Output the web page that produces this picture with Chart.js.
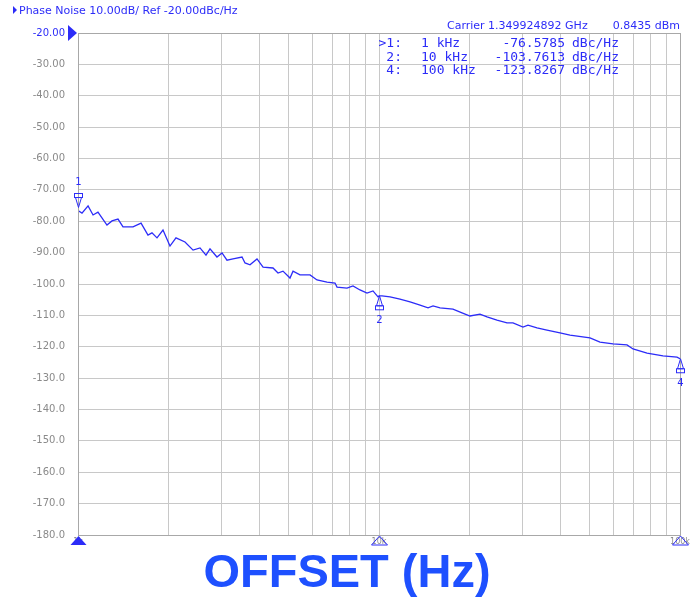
<!DOCTYPE html>
<html>
<head>
    <title>Phase Noise</title>
    <meta charset="utf-8" />
    <script src="https://cdn.jsdelivr.net/npm/chart.js"></script>
    <style>
        body { margin: 0; background: #fff; }
        #chart { display: block; }
    </style>
</head>
<body>
    <canvas id="chart" width="693" height="598"></canvas>
    <script>
        // trace (offset in Hz, noise in dBc/Hz)
        var offsetHz = [1000, 1031, 1080, 1122, 1165, 1248, 1297, 1358, 1411, 1523, 1620, 1708, 1761, 1830, 1916,
            2021, 2116, 2267, 2411, 2543, 2662, 2745, 2895, 3009, 3126, 3273, 3507, 3588, 3728, 3933, 4119, 4445,
            4618, 4798, 5062, 5180, 5465, 5899, 6223, 6720, 7142, 7253, 7829, 8196, 8647, 9123, 9552, 9924, 10000,
            10230, 10880, 11740, 12680, 13690, 14550, 15120, 15950, 17610, 18870, 20060, 21650, 22850, 24660, 26620,
            27870, 30090, 31260, 33490, 36150, 39930, 43110, 50230, 54230, 59900, 66680, 69810, 77710, 87800, 97730, 100000];
        var noiseDbc = [-76.6, -77.4, -75.1, -78.0, -77.1, -81.2, -79.9, -79.3, -81.8, -81.8, -80.6, -84.4, -83.7, -85.3, -82.8,
            -87.9, -85.3, -86.6, -89.2, -88.5, -90.8, -88.8, -91.4, -90.1, -92.4, -92.0, -91.4, -93.3, -93.9, -92.0, -94.6, -94.9,
            -96.5, -95.9, -98.1, -95.9, -97.1, -97.1, -98.7, -99.4, -99.7, -101.0, -101.3, -100.6, -101.9, -102.9, -102.2, -104.1, -103.8,
            -103.8, -104.1, -104.8, -105.7, -106.7, -107.6, -107.0, -107.6, -108.0, -109.2, -110.2, -109.6, -110.5, -111.5, -112.4,
            -112.4, -113.7, -113.1, -114.0, -114.7, -115.6, -116.3, -117.2, -118.5, -119.1, -119.4, -120.7, -122.0, -122.9, -123.3, -123.8];

        // vertical grid of the analyser and the labelled decades
        var xGridHz = [1000, 2000, 3000, 4000, 5000, 6000, 7000, 8000, 9000, 10000,
            20000, 30000, 40000, 50000, 60000, 70000, 80000, 90000, 100000];
        var xLabelHz = [1000, 10000, 100000];
        var xLabelText = ['1k', '10k', '100k'];

        // markers
        var markerNames = ['1', '2', '4'];
        var markerFreqText = ['1 kHz', '10 kHz', '100 kHz'];
        var markerFreqs = [1000, 10000, 100000];
        var markerValues = [-76.5785, -103.7613, -123.8267];

        var titleText = 'Phase Noise 10.00dB/ Ref -20.00dBc/Hz';
        var carrierText = 'Carrier 1.349924892 GHz';
        var powerText = '0.8435 dBm';
        var axisTitle = 'OFFSET (Hz)';

        var blue = '#2c2cf8';
        var smallFont = '11px "DejaVu Sans"';

        var points = offsetHz.map(function(f, i) { return { x: f, y: noiseDbc[i] }; });

        function triangle(ctx, x, tipY, dir, halfW, h, fill) {
            ctx.beginPath();
            ctx.moveTo(x, tipY);
            ctx.lineTo(x - halfW, tipY + dir * h);
            ctx.lineTo(x + halfW, tipY + dir * h);
            ctx.closePath();
            if (fill) ctx.fill(); else ctx.stroke();
        }

        var overlay = {
            id: 'overlay',
            afterDraw: function(chart) {
                var ctx = chart.ctx;
                var a = chart.chartArea;
                var xs = chart.scales.x, ys = chart.scales.y;
                ctx.save();

                // plot frame
                ctx.strokeStyle = '#a8a8a8';
                ctx.lineWidth = 1;
                ctx.strokeRect(a.left + 0.5, a.top + 0.5, a.right - a.left, a.bottom - a.top);

                ctx.fillStyle = blue;
                ctx.strokeStyle = blue;

                // title line
                ctx.beginPath();
                ctx.moveTo(13, 6); ctx.lineTo(17, 10); ctx.lineTo(13, 14); ctx.closePath(); ctx.fill();
                ctx.font = smallFont;
                ctx.textBaseline = 'alphabetic';
                ctx.textAlign = 'left';
                ctx.fillText(titleText, 19, 14);

                // carrier
                ctx.fillText(carrierText, 447, 29);
                ctx.textAlign = 'right';
                ctx.fillText(powerText, 680, 29);

                // marker table
                ctx.font = '13px "DejaVu Sans Mono"';
                for (var i = 0; i < markerNames.length; i++) {
                    var by = 47 + i * 13.5;
                    ctx.textAlign = 'right';
                    ctx.fillText((i === 0 ? '>' : '') + markerNames[i] + ':', 402, by);
                    ctx.fillText(markerValues[i].toFixed(4), 565, by);
                    ctx.textAlign = 'left';
                    ctx.fillText(markerFreqText[i], 421, by);
                    ctx.fillText('dBc/Hz', 572, by);
                }

                // reference level arrow on y axis
                var ry = ys.getPixelForValue(-20);
                ctx.beginPath();
                ctx.moveTo(a.left - 10, ry - 8); ctx.lineTo(a.left - 1, ry); ctx.lineTo(a.left - 10, ry + 8);
                ctx.closePath(); ctx.fill();

                // trace markers
                ctx.lineWidth = 1;
                ctx.font = '10px "DejaVu Sans"';
                ctx.textAlign = 'center';
                ctx.textBaseline = 'middle';
                for (var m = 0; m < markerFreqs.length; m++) {
                    var px = Math.round(xs.getPixelForValue(markerFreqs[m])) + 0.5;
                    var py = ys.getPixelForValue(markerValues[m]);
                    var dir = m === 0 ? -1 : 1;
                    var tip = m === 0 ? py - 3 : py;
                    triangle(ctx, px, tip, dir, 3, 10, false);
                    ctx.strokeRect(px - 4, dir > 0 ? tip + 10 : tip - 14, 8, 4);
                    ctx.fillText(markerNames[m], px, tip + dir * 25);
                }

                // markers on the x axis
                for (var k = 0; k < markerFreqs.length; k++) {
                    var bx = Math.round(xs.getPixelForValue(markerFreqs[k])) + 0.5;
                    triangle(ctx, bx, a.bottom + 1, 1, 8, 9, k === 0);
                }

                // big axis title
                ctx.font = 'bold 47px "Liberation Sans"';
                ctx.fillStyle = '#1e50ff';
                ctx.textAlign = 'center';
                ctx.textBaseline = 'alphabetic';
                ctx.fillText(axisTitle, 347, 587);

                ctx.restore();
            }
        };

        new Chart(document.getElementById('chart'), {
            type: 'line',
            data: {
                datasets: [{
                    data: points,
                    borderColor: blue,
                    borderWidth: 1.3,
                    pointRadius: 0,
                    tension: 0,
                    fill: false
                }]
            },
            options: {
                responsive: false,
                animation: false,
                devicePixelRatio: 1,
                layout: { padding: { top: 33, right: 13, left: 0, bottom: 0 } },
                plugins: { legend: { display: false }, tooltip: { enabled: false } },
                scales: {
                    x: {
                        type: 'logarithmic',
                        min: 1000,
                        max: 100000,
                        afterBuildTicks: function(s) {
                            s.ticks = xGridHz.map(function(v) { return { value: v }; });
                        },
                        afterFit: function(s) { s.height = 63; },
                        ticks: {
                            autoSkip: false,
                            maxRotation: 0,
                            padding: 2,
                            color: '#8a8a8a',
                            font: { family: 'DejaVu Sans', size: 8 },
                            callback: function(v) {
                                var i = xLabelHz.indexOf(v);
                                return i >= 0 ? xLabelText[i] : '';
                            }
                        },
                        grid: { color: '#c8c8c8', drawTicks: false },
                        border: { color: '#a0a0a0' }
                    },
                    y: {
                        min: -180,
                        max: -20,
                        afterFit: function(s) { s.width = 78; },
                        ticks: {
                            stepSize: 10,
                            padding: 13,
                            font: { family: 'DejaVu Sans', size: 10 },
                            color: function(c) { return c.tick && c.tick.value === -20 ? blue : '#8a8a8a'; },
                            callback: function(v) { return v > -100 ? v.toFixed(2) : v.toFixed(1); }
                        },
                        grid: { color: '#c8c8c8', drawTicks: false },
                        border: { color: '#909090' }
                    }
                }
            },
            plugins: [overlay]
        });
    </script>
</body>
</html>
